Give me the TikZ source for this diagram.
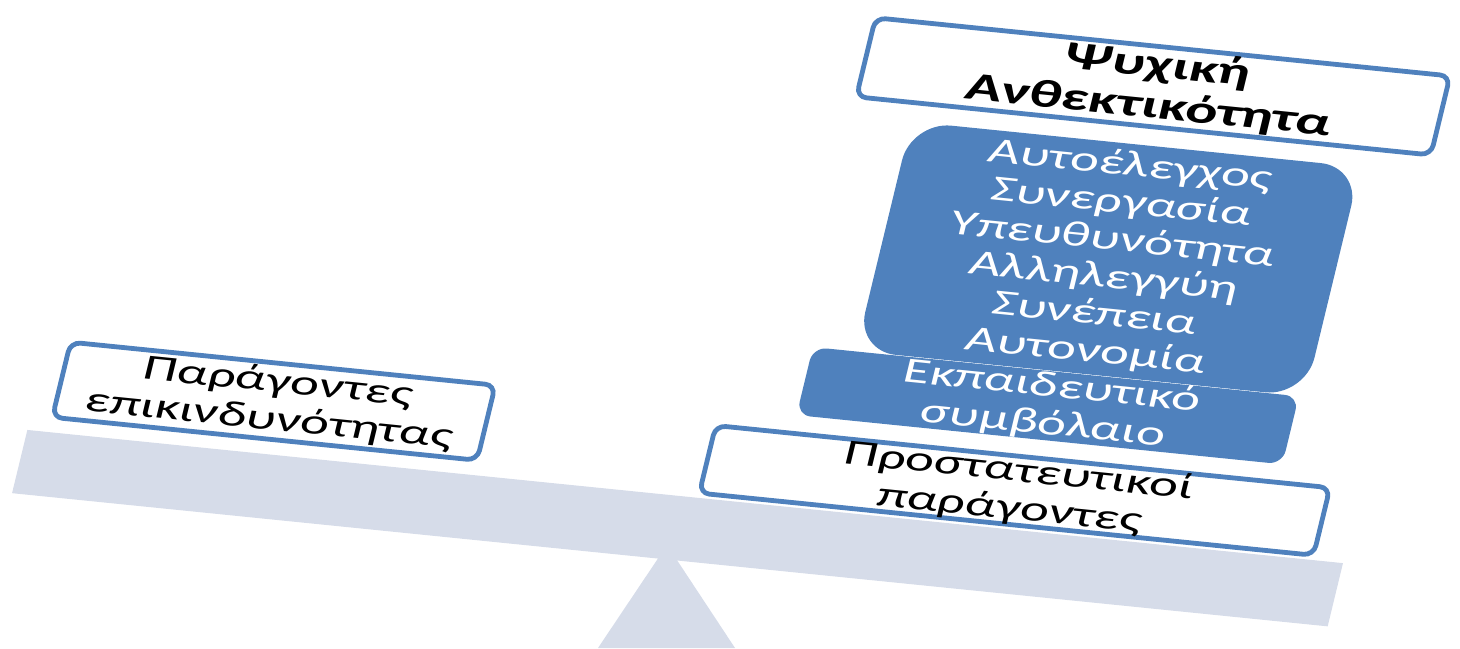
\documentclass[tikz,border=0pt]{standalone}
\usepackage{fontspec}
\setmainfont{Carlito}
\definecolor{boxblue}{HTML}{4F81BD}
\definecolor{beamgray}{HTML}{D6DCE9}
\tikzset{
  labeltext/.style={font=\fontsize{17.8}{18.8}\selectfont, align=center},
  whitebox/.style={labeltext, draw=boxblue, line width=2.4pt, fill=white,
    rounded corners=5pt, text=black, inner xsep=2pt, inner ysep=0pt},
  bluebox/.style={labeltext, fill=boxblue, text=white, inner xsep=2pt, inner ysep=0pt},
  beamfill/.style={fill=beamgray}
}
\begin{document}
\begin{tikzpicture}[x=0.5pt,y=0.5pt]
  \path[use as bounding box] (0,0) rectangle (1460,-648);
  % fulcrum
  \path[beamfill] (667,-545) -- (598,-648) -- (735,-648) -- cycle;
  % tilted seesaw: rotated and widened frame
  \begin{scope}[cm={1.528,-0.1547,0.2393,0.988,(0,0)}, transform shape]
    \path[beamfill] (84,-422) rectangle (945,-486);
    \node[whitebox, minimum width=139pt, minimum height=38pt] (risk) at (237,-369)
      {Παράγοντες\\επικινδυνότητας};
    \node[whitebox, minimum width=201pt, minimum height=34pt] (protect) at (724,-383)
      {Προστατευτικοί\\παράγοντες};
    \node[bluebox, rounded corners=7pt, minimum width=159pt, minimum height=34pt] (contract) at (732,-296)
      {Εκπαιδευτικό\\συμβόλαιο};
    \node[bluebox, rounded corners=20pt, minimum width=147pt, minimum height=116pt] (values) at (748,-145)
      {Αυτοέλεγχος\\Συνεργασία\\Υπευθυνότητα\\Αλληλεγγύη\\Συνέπεια\\Αυτονομία};
    \node[whitebox, font=\fontsize{19.5}{20.5}\selectfont\bfseries, minimum width=188pt, minimum height=40pt] (resilience) at (750,30)
      {Ψυχική\\Ανθεκτικότητα};
  \end{scope}
\end{tikzpicture}
\end{document}
